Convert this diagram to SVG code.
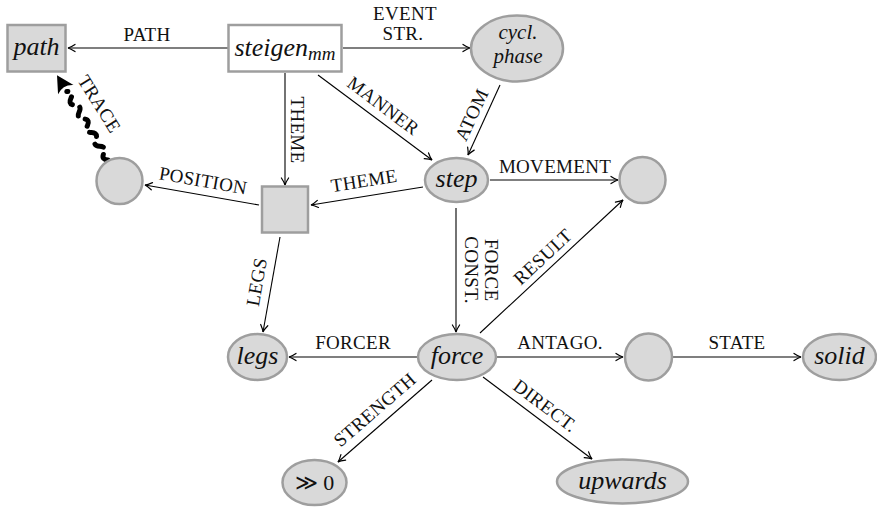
<svg xmlns="http://www.w3.org/2000/svg" width="877" height="507" viewBox="0 0 877 507">
  <defs>
    <marker id="tip" markerUnits="userSpaceOnUse" markerWidth="12" markerHeight="12" viewBox="-9 -6 12 12" refX="0" refY="0" orient="auto" overflow="visible">
      <path d="M-7,-3.6 Q-2.5,-0.6 0,0 Q-2.5,0.6 -7,3.6" fill="none" stroke="#000" stroke-width="1.2" stroke-linecap="round"/>
    </marker>
    <style>
      .nd { fill: #d9d9d9; stroke: #9e9e9e; stroke-width: 2.5; }
      .bx { fill: #ffffff; stroke: #9e9e9e; stroke-width: 2.5; }
      .nt { font-family: "Liberation Serif", "DejaVu Serif", serif; font-style: italic; font-size: 26px; fill: #111; text-anchor: middle; }
      .mt { font-family: "Liberation Serif", "DejaVu Serif", serif; font-size: 22px; fill: #111; text-anchor: middle; }
      .lb { font-family: "Liberation Serif", "DejaVu Serif", serif; font-size: 19px; letter-spacing: 0.3px; fill: #111; text-anchor: middle; }
      .ed { fill: none; stroke: #000; stroke-width: 1.1; marker-end: url(#tip); }
    </style>
  </defs>

  <rect width="877" height="507" fill="#ffffff"/>

  <!-- connectors -->
  <g id="connectors">
    <line class="ed" x1="228" y1="48" x2="68" y2="48"/>
    <line class="ed" x1="343" y1="48" x2="470" y2="48"/>
    <line class="ed" x1="318" y1="75" x2="432" y2="160"/>
    <line class="ed" x1="500" y1="85" x2="468" y2="155"/>
    <line class="ed" x1="285" y1="73" x2="285" y2="185"/>
    <line class="ed" x1="423" y1="187" x2="311" y2="205"/>
    <line class="ed" x1="259" y1="205" x2="145" y2="185"/>
    <line class="ed" x1="280" y1="237" x2="263" y2="332"/>
    <line class="ed" x1="490" y1="180" x2="618" y2="180"/>
    <line class="ed" x1="456" y1="208" x2="456" y2="332"/>
    <line class="ed" x1="480" y1="333" x2="623" y2="200"/>
    <line class="ed" x1="418" y1="357" x2="289" y2="357"/>
    <line class="ed" x1="497" y1="357" x2="623" y2="357"/>
    <line class="ed" x1="673" y1="357" x2="801" y2="357"/>
    <line class="ed" x1="432" y1="380" x2="338" y2="462"/>
    <line class="ed" x1="483" y1="377" x2="592" y2="459"/>

    <!-- trace: footprint-like thick dashed squiggle -->
    <g transform="translate(108,160) rotate(-121)">
      <path d="M0,0 q4,-6 8,0 t8,0 t8,0 t8,0 t8,0 t8,0 t8,0 t8,0 t8,0 t8,0" fill="none" stroke="#000" stroke-width="5" stroke-dasharray="9 8" stroke-linecap="round"/>
      <path d="M99,0 L82,-9 Q88,0 82,9 Z" fill="#000"/>
    </g>

    <!-- connector labels -->
    <text class="lb" x="147" y="41">PATH</text>
    <text class="lb" x="405" y="20">EVENT</text>
    <text class="lb" x="403" y="40">STR.</text>
    <text class="lb" transform="translate(383,106) rotate(37)" y="6">MANNER</text>
    <text class="lb" transform="translate(472,115) rotate(-65)" y="6">ATOM</text>
    <text class="lb" transform="translate(297,130) rotate(90)" y="6">THEME</text>
    <text class="lb" transform="translate(364,181) rotate(-9)" y="6">THEME</text>
    <text class="lb" transform="translate(203,181) rotate(10)" y="6">POSITION</text>
    <text class="lb" transform="translate(99,104) rotate(58)" y="6">TRACE</text>
    <text class="lb" transform="translate(257,282) rotate(-80)" y="6">LEGS</text>
    <text class="lb" x="555" y="173">MOVEMENT</text>
    <text class="lb" transform="translate(491,270) rotate(90)" y="6">FORCE</text>
    <text class="lb" transform="translate(471,270) rotate(90)" y="6">CONST.</text>
    <text class="lb" transform="translate(543,257) rotate(-43)" y="6">RESULT</text>
    <text class="lb" x="353" y="349">FORCER</text>
    <text class="lb" x="560" y="349">ANTAGO.</text>
    <text class="lb" x="737" y="349">STATE</text>
    <text class="lb" transform="translate(375,410) rotate(-41)" y="6">STRENGTH</text>
    <text class="lb" transform="translate(545,406) rotate(37)" y="6">DIRECT.</text>
  </g>

  <!-- nodes -->
  <g id="n-path">
    <rect class="nd" x="7.5" y="25" width="58" height="46.5"/>
    <text class="nt" x="36.5" y="55">path</text>
  </g>
  <g id="n-steigen">
    <rect class="bx" x="228.5" y="25" width="113" height="46.5"/>
    <text class="nt" x="285" y="56">steigen<tspan font-size="19" dy="4">mm</tspan></text>
  </g>
  <g id="n-cycl">
    <ellipse class="nd" cx="517" cy="48.5" rx="46" ry="33"/>
    <text class="nt" style="font-size:21px"><tspan x="518" y="39">cycl.</tspan><tspan x="518" y="63">phase</tspan></text>
  </g>
  <g id="n-step">
    <ellipse class="nd" cx="456.5" cy="180" rx="31.5" ry="22"/>
    <text class="nt" x="456.5" y="187">step</text>
  </g>
  <g id="n-goal">
    <circle class="nd" cx="642.5" cy="180" r="23"/>
  </g>
  <g id="n-place">
    <circle class="nd" cx="119.5" cy="181" r="23"/>
  </g>
  <g id="n-body">
    <rect class="nd" x="262" y="186.5" width="46" height="46"/>
  </g>
  <g id="n-legs">
    <ellipse class="nd" cx="257.5" cy="357" rx="29.5" ry="23"/>
    <text class="nt" x="257.5" y="364">legs</text>
  </g>
  <g id="n-force">
    <ellipse class="nd" cx="457" cy="357" rx="39" ry="23"/>
    <text class="nt" x="457" y="364">force</text>
  </g>
  <g id="n-ground">
    <circle class="nd" cx="648.5" cy="357" r="23.5"/>
  </g>
  <g id="n-solid">
    <ellipse class="nd" cx="839.5" cy="357" rx="36.5" ry="23"/>
    <text class="nt" x="839.5" y="364">solid</text>
  </g>
  <g id="n-strength">
    <ellipse class="nd" cx="314.5" cy="482.5" rx="32" ry="22.5"/>
    <text class="mt" x="314.5" y="490">≫ 0</text>
  </g>
  <g id="n-upwards">
    <ellipse class="nd" cx="622.5" cy="481.5" rx="65.5" ry="22"/>
    <text class="nt" x="622.5" y="489">upwards</text>
  </g>
</svg>
